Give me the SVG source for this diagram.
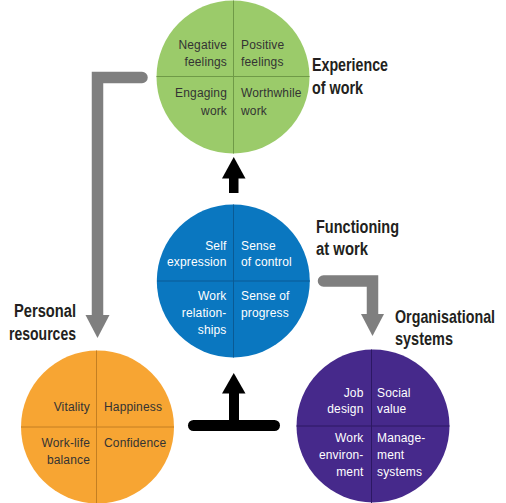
<svg xmlns="http://www.w3.org/2000/svg" width="506" height="503" viewBox="0 0 506 503">
<style>
.t{font-family:"Liberation Sans",Arial,sans-serif;font-size:12px;letter-spacing:0.15px}
.dk{fill:#333}
.wh{fill:#fff}
.e{text-anchor:end}
.lbl{font-family:"Liberation Sans",Arial,sans-serif;font-size:18px;font-weight:bold;fill:#231f20}
.div{stroke-width:1}
.gray{fill:none;stroke:#7f7f7f;stroke-width:11.5;stroke-linecap:round;stroke-linejoin:miter}
</style>
<rect width="506" height="503" fill="#fff"/>
<g id="connectors">
  <polyline class="gray" points="142,77.5 97.5,77.5 97.5,316"/>
  <polygon points="85.5,315 109.5,315 97.5,338" fill="#7f7f7f"/>
  <polyline class="gray" points="323.5,281 372.5,281 372.5,315"/>
  <polygon points="361,314 384,314 372.5,336" fill="#7f7f7f"/>
  <rect x="229" y="177" width="9.5" height="16" fill="#000"/>
  <polygon points="222,178.5 245.5,178.5 233.75,157" fill="#000"/>
  <line x1="193.5" y1="425.5" x2="274.5" y2="425.5" stroke="#000" stroke-width="11" stroke-linecap="round"/>
  <rect x="229" y="392" width="10" height="34" fill="#000"/>
  <polygon points="222,393.5 245.5,393.5 233.75,373" fill="#000"/>
</g>
<g id="experience">
  <circle cx="233" cy="77" r="76.5" fill="#9bcb6a"/>
  <line class="div" x1="233.5" y1="0.5" x2="233.5" y2="153.5" stroke="#6f9a47"/>
  <line class="div" x1="156.5" y1="76.5" x2="309.5" y2="76.5" stroke="#6f9a47"/>
  <text class="t dk e" x="227" y="48.5">Negative</text>
  <text class="t dk e" x="227" y="65.5">feelings</text>
  <text class="t dk" x="241" y="48.5">Positive</text>
  <text class="t dk" x="241" y="65.5">feelings</text>
  <text class="t dk e" x="227" y="97">Engaging</text>
  <text class="t dk e" x="227" y="114.5">work</text>
  <text class="t dk" x="241" y="97">Worthwhile</text>
  <text class="t dk" x="241" y="114.5">work</text>
  <text class="lbl" x="312" y="71" textLength="76" lengthAdjust="spacingAndGlyphs">Experience</text>
  <text class="lbl" x="312" y="94" textLength="51" lengthAdjust="spacingAndGlyphs">of work</text>
</g>
<g id="functioning">
  <circle cx="233.3" cy="281" r="76.5" fill="#0a77c0"/>
  <line class="div" x1="233.5" y1="204.5" x2="233.5" y2="357.5" stroke="#0a5a94"/>
  <line class="div" x1="157" y1="281" x2="310" y2="281" stroke="#0a5a94"/>
  <text class="t wh e" x="226.5" y="249.5">Self</text>
  <text class="t wh e" x="226.5" y="266">expression</text>
  <text class="t wh" x="241" y="249.5">Sense</text>
  <text class="t wh" x="241" y="266">of control</text>
  <text class="t wh e" x="226.5" y="300">Work</text>
  <text class="t wh e" x="226.5" y="317">relation-</text>
  <text class="t wh e" x="226.5" y="334">ships</text>
  <text class="t wh" x="241" y="300">Sense of</text>
  <text class="t wh" x="241" y="317">progress</text>
  <text class="lbl" x="316" y="233" textLength="83" lengthAdjust="spacingAndGlyphs">Functioning</text>
  <text class="lbl" x="316" y="255" textLength="52" lengthAdjust="spacingAndGlyphs">at work</text>
</g>
<g id="personal">
  <circle cx="97.5" cy="427" r="76.5" fill="#f7a533"/>
  <line class="div" x1="96.5" y1="350.5" x2="96.5" y2="503" stroke="#c47f22"/>
  <line class="div" x1="21" y1="427" x2="174" y2="427" stroke="#c47f22"/>
  <text class="t dk e" x="90" y="411">Vitality</text>
  <text class="t dk" x="104" y="411">Happiness</text>
  <text class="t dk e" x="90" y="447">Work-life</text>
  <text class="t dk e" x="90" y="464">balance</text>
  <text class="t dk" x="104" y="447">Confidence</text>
  <text class="lbl" x="14" y="317" textLength="62" lengthAdjust="spacingAndGlyphs">Personal</text>
  <text class="lbl" x="9" y="340" textLength="67" lengthAdjust="spacingAndGlyphs">resources</text>
</g>
<g id="organisational">
  <circle cx="373" cy="426" r="76.5" fill="#46298b"/>
  <line class="div" x1="371.5" y1="349.5" x2="371.5" y2="503" stroke="#2c1863"/>
  <line class="div" x1="296.5" y1="426" x2="449.5" y2="426" stroke="#2c1863"/>
  <text class="t wh e" x="363.5" y="397">Job</text>
  <text class="t wh e" x="363.5" y="413">design</text>
  <text class="t wh" x="377" y="397">Social</text>
  <text class="t wh" x="377" y="413">value</text>
  <text class="t wh e" x="363.5" y="442">Work</text>
  <text class="t wh e" x="363.5" y="459">environ-</text>
  <text class="t wh e" x="363.5" y="476">ment</text>
  <text class="t wh" x="377" y="442">Manage-</text>
  <text class="t wh" x="377" y="459">ment</text>
  <text class="t wh" x="377" y="476">systems</text>
  <text class="lbl" transform="translate(395,323) scale(0.794,1)" x="0" y="0">Organisational</text>
  <text class="lbl" x="395" y="345" textLength="58" lengthAdjust="spacingAndGlyphs">systems</text>
</g>
</svg>
